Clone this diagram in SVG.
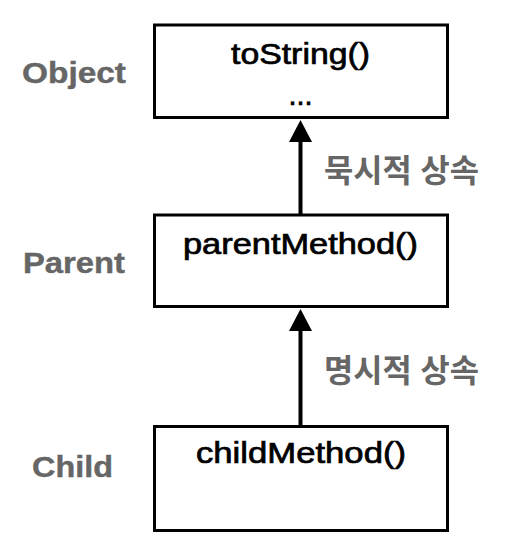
<svg xmlns="http://www.w3.org/2000/svg" width="505" height="547" viewBox="0 0 505 547">
  <defs>
    <style>
      .box { fill: #ffffff; stroke: #000000; stroke-width: 3; }
      .method { font-family: "Liberation Sans", Arial, sans-serif; font-size: 29px; fill: #000000; stroke: #000000; stroke-width: 0.7px; text-anchor: middle; }
      .label { font-family: "Liberation Sans", Arial, sans-serif; font-size: 29px; font-weight: bold; fill: #666666; stroke: #666666; stroke-width: 0.4px; text-anchor: middle; }
      .klabel { font-family: "Liberation Sans", "Noto Sans CJK KR", sans-serif; font-size: 32px; font-weight: bold; fill: #666666; }
      .shaft { stroke: #000000; stroke-width: 4; fill: none; }
      .head { fill: #000000; }
    </style>
  </defs>
  <rect width="505" height="547" fill="#ffffff"/>

  <g id="object">
    <rect class="box" x="154.5" y="25" width="293" height="92.5"/>
    <text class="method" x="300.5" y="64" textLength="139" lengthAdjust="spacingAndGlyphs">toString()</text>
    <text class="method" x="300.5" y="105">...</text>
    <text class="label" x="74" y="83" textLength="104" lengthAdjust="spacingAndGlyphs">Object</text>
  </g>

  <g id="parent">
    <rect class="box" x="154.5" y="215" width="293" height="91.5"/>
    <text class="method" x="300.5" y="254" textLength="235" lengthAdjust="spacingAndGlyphs">parentMethod()</text>
    <text class="label" x="74" y="273" textLength="102" lengthAdjust="spacingAndGlyphs">Parent</text>
  </g>

  <g id="child">
    <rect class="box" x="154.5" y="426.5" width="293" height="104"/>
    <text class="method" x="301" y="463" textLength="210" lengthAdjust="spacingAndGlyphs">childMethod()</text>
    <text class="label" x="72.5" y="477" textLength="81" lengthAdjust="spacingAndGlyphs">Child</text>
  </g>

  <g id="connectors">
    <line class="shaft" x1="300.5" y1="140" x2="300.5" y2="215"/>
    <polygon class="head" points="300.5,120 312,142 289,142"/>
    <text class="klabel" x="324" y="182" textLength="155" lengthAdjust="spacingAndGlyphs">묵시적 상속</text>

    <line class="shaft" x1="300.5" y1="329" x2="300.5" y2="426.5"/>
    <polygon class="head" points="300.5,309 312,331 289,331"/>
    <text class="klabel" x="324" y="382" textLength="155" lengthAdjust="spacingAndGlyphs">명시적 상속</text>
  </g>
</svg>
